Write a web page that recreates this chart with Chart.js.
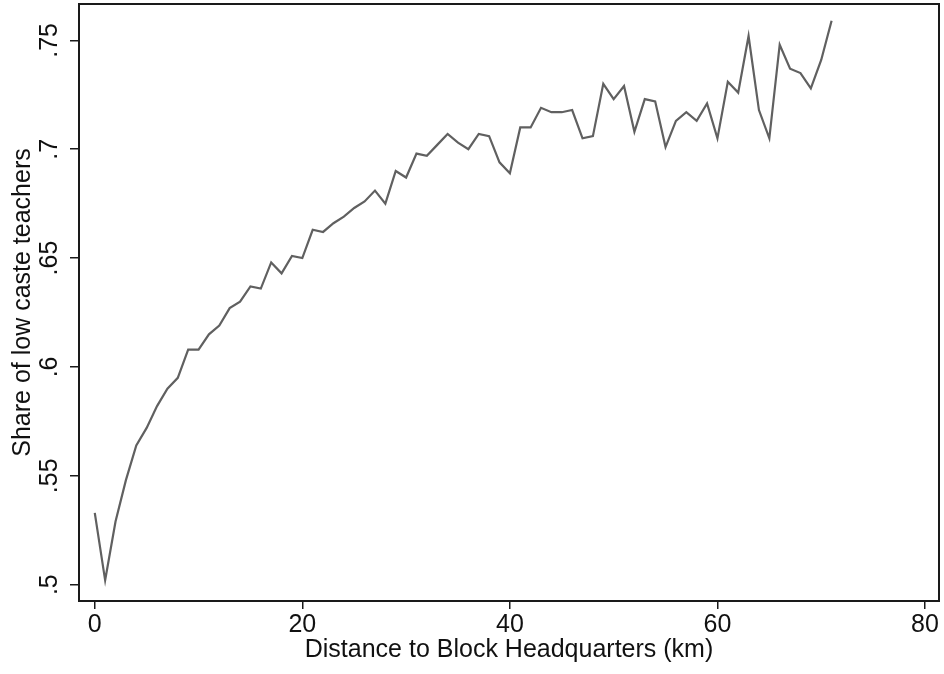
<!DOCTYPE html>
<html>
<head>
<meta charset="utf-8">
<title>Share of low caste teachers by distance</title>
<script src="https://cdn.jsdelivr.net/npm/chart.js@4.4.1/dist/chart.umd.min.js"></script>
<style>
  html, body { margin: 0; padding: 0; background: #fff; }
  #wrap { width: 944px; height: 674px; }
</style>
</head>
<body>
<div id="wrap"><canvas id="myChart" width="944" height="674"></canvas></div>
<script>
'use strict';

// distance to block headquarters (km)
const distances = [];
for (let i = 0; i <= 71; i++) distances.push(i);

// share of low caste teachers
const shares = [
  0.533, 0.502, 0.529, 0.548, 0.564, 0.572, 0.582, 0.590, 0.595, 0.608,
  0.608, 0.615, 0.619, 0.627, 0.630, 0.637, 0.636, 0.648, 0.643, 0.651,
  0.650, 0.663, 0.662, 0.666, 0.669, 0.673, 0.676, 0.681, 0.675, 0.690,
  0.687, 0.698, 0.697, 0.702, 0.707, 0.703, 0.700, 0.707, 0.706, 0.694,
  0.689, 0.710, 0.710, 0.719, 0.717, 0.717, 0.718, 0.705, 0.706, 0.730,
  0.723, 0.729, 0.708, 0.723, 0.722, 0.701, 0.713, 0.717, 0.713, 0.721,
  0.705, 0.731, 0.726, 0.752, 0.718, 0.705, 0.748, 0.737, 0.735, 0.728,
  0.741, 0.759
];

const xTickValues = [0, 20, 40, 60, 80];
const yTickValues = [0.5, 0.55, 0.6, 0.65, 0.7, 0.75];
const yTickLabels = ['.5', '.55', '.6', '.65', '.7', '.75'];

const FONT = "'Liberation Sans', Arial, Helvetica, sans-serif";

// draws the closed box round the plot area
const frameBox = {
  id: 'frameBox',
  afterDatasetsDraw(chart) {
    const a = chart.chartArea;
    const c = chart.ctx;
    c.save();
    c.strokeStyle = '#1a1a1a';
    c.lineWidth = 2;
    c.strokeRect(a.left, a.top, a.right - a.left, a.bottom - a.top);
    c.restore();
  }
};

const ctx = document.getElementById('myChart').getContext('2d');

const myChart = new Chart(ctx, {
  type: 'line',
  data: {
    datasets: [{
      data: distances.map((d, i) => ({ x: d, y: shares[i] })),
      borderColor: '#606060',
      borderWidth: 2.2,
      pointRadius: 0,
      tension: 0,
      fill: false
    }]
  },
  options: {
    responsive: false,
    animation: false,
    devicePixelRatio: 1,
    layout: { padding: { top: 4, right: 5, left: 0, bottom: 0 } },
    plugins: {
      legend: { display: false },
      tooltip: { enabled: false }
    },
    scales: {
      x: {
        type: 'linear',
        min: -1.52,
        max: 81.35,
        afterBuildTicks: (scale) => { scale.ticks = xTickValues.map(v => ({ value: v })); },
        afterFit: (scale) => { scale.height = 73; scale.paddingLeft = 0; scale.paddingRight = 0; },
        grid: { drawOnChartArea: false, drawTicks: true, tickLength: 8, color: '#1a1a1a', lineWidth: 1.5 },
        border: { display: false },
        ticks: {
          color: '#111',
          padding: 1,
          maxRotation: 0,
          font: { family: FONT, size: 25 }
        },
        title: {
          display: true,
          text: 'Distance to Block Headquarters (km)',
          color: '#111',
          padding: { top: 0, bottom: 9 },
          font: { family: FONT, size: 25 }
        }
      },
      y: {
        type: 'linear',
        min: 0.4925,
        max: 0.7667,
        afterBuildTicks: (scale) => { scale.ticks = yTickValues.map(v => ({ value: v })); },
        afterFit: (scale) => { scale.width = 79; scale.paddingTop = 0; scale.paddingBottom = 0; },
        grid: { drawOnChartArea: false, drawTicks: true, tickLength: 9, color: '#1a1a1a', lineWidth: 1.5 },
        border: { display: false },
        ticks: {
          color: '#111',
          padding: 3,
          minRotation: 90,
          maxRotation: 90,
          crossAlign: 'center',
          font: { family: FONT, size: 25 },
          callback: (value) => {
            const k = yTickValues.findIndex(v => Math.abs(v - value) < 1e-6);
            return k >= 0 ? yTickLabels[k] : '';
          }
        },
        title: {
          display: true,
          text: 'Share of low caste teachers',
          color: '#111',
          padding: { top: 8, bottom: 0 },
          font: { family: FONT, size: 25 }
        }
      }
    }
  },
  plugins: [frameBox]
});
</script>
</body>
</html>
